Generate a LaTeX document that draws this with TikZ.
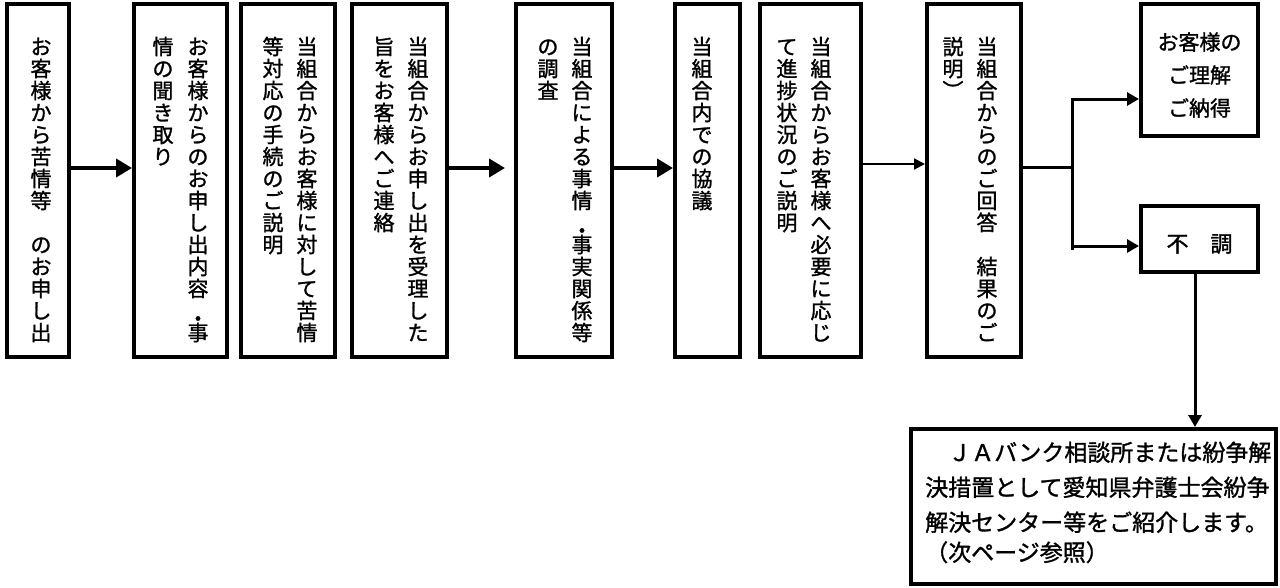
\documentclass[tikz,border=0pt]{standalone}
\usepackage{fontspec}
\setmainfont{Noto Sans CJK JP}[FakeBold=1.3]
\usetikzlibrary{arrows.meta}
\newcommand\vcol[1]{\vtop{\baselineskip=22pt\lineskiplimit=-1000pt\lineskip=0pt\vcolstep#1\relax}}
\def\vcolstep#1{\ifx#1\relax\else\hbox to 21pt{\hss#1\hss}\expandafter\vcolstep\fi}
\newcommand\lowdot{\raisebox{-0.38em}{・}}
\begin{document}
\begin{tikzpicture}[x=1pt,y=-1pt,
  box/.style={draw, line width=4pt, inner sep=0pt},
  vt/.style={anchor=base, inner sep=0pt, font=\fontsize{21pt}{22pt}\selectfont},
  arrowA/.style={line width=4pt, -{Triangle[length=16pt,width=18pt]}},
  arrowB/.style={line width=3pt, -{Triangle[length=12pt,width=13pt]}},
  lineB/.style={line width=3pt},
  arrowC/.style={line width=2pt, -{Triangle[length=11pt,width=11pt]}}]
\fill[white] (0,0) rectangle (1280,587);
\useasboundingbox (0,0) rectangle (1280,587);
% boxes
\node[box, minimum width=62pt, minimum height=353pt] (b1) at (38,180.5) {};
\node[box, minimum width=93pt, minimum height=353pt] (b2) at (180.5,180.5) {};
\node[box, minimum width=94pt, minimum height=353pt] (b3) at (288,180.5) {};
\node[box, minimum width=95pt, minimum height=353pt] (b4) at (399.5,180.5) {};
\node[box, minimum width=96pt, minimum height=353pt] (b5) at (564,180.5) {};
\node[box, minimum width=65pt, minimum height=353pt] (b6) at (707.5,180.5) {};
\node[box, minimum width=101pt, minimum height=353pt] (b7) at (810.5,180.5) {};
\node[box, minimum width=94pt, minimum height=353pt] (b8) at (974,180.5) {};
\node[box, minimum width=117pt, minimum height=132pt] (b9) at (1199.5,70) {};
\node[box, minimum width=117pt, minimum height=66pt] (b10) at (1199.5,239) {};
\node[box, minimum width=365pt, minimum height=155pt] (b11) at (1093.5,506.5) {};
% vertical texts
\node[vt] (t1) at (41,54.5) {\vcol{お客様から苦情等　のお申し出}};
\node[vt] (t2a) at (198,54.5) {\vcol{お客様からのお申し出内容\lowdot 事}};
\node[vt] (t2b) at (163,54.5) {\vcol{情の聞き取り}};
\node[vt] (t3a) at (307,54.5) {\vcol{当組合からお客様に対して苦情}};
\node[vt] (t3b) at (273,54.5) {\vcol{等対応の手続のご説明}};
\node[vt] (t4a) at (418,54.5) {\vcol{当組合からお申し出を受理した}};
\node[vt] (t4b) at (384,54.5) {\vcol{旨をお客様へご連絡}};
\node[vt] (t5a) at (582,54.5) {\vcol{当組合による事情\lowdot 事実関係等}};
\node[vt] (t5b) at (548,54.5) {\vcol{の調査}};
\node[vt] (t6) at (702,54.5) {\vcol{当組合内での協議}};
\node[vt] (t7a) at (821,54.5) {\vcol{当組合からお客様へ必要に応じ}};
\node[vt] (t7b) at (787,54.5) {\vcol{て進捗状況のご説明}};
\node[vt] (t8a) at (987,54.5) {\vcol{当組合からのご回答　結果のご}};
\node[vt] (t8b) at (953,54.5) {\vcol{説明︶}};
% horizontal texts
\node[inner sep=0pt, align=center, font=\fontsize{21pt}{33pt}\selectfont] (t9) at (1199.5,75) {お客様の\\ご理解\\ご納得};
\node[inner sep=0pt, font=\fontsize{22pt}{24pt}\selectfont] (t10) at (1199.5,244) {不　調};
\node[anchor=base west, inner sep=0pt, font=\fontsize{23pt}{35pt}\selectfont] (t11) at (925,461)
  {\vtop{\baselineskip=35pt\hbox{　ＪＡバンク相談所または紛争解}\hbox{決措置として愛知県弁護士会紛争}\hbox{解決センター等をご紹介します。}\vskip-5pt\hbox{（次ページ参照）}}};
% connectors
\coordinate (m) at (0,168);
\coordinate (m2) at (0,164);
\coordinate (j) at (1072,167);
\coordinate (jt) at (1072,99);
\coordinate (jb) at (1072,250);
\coordinate (jb2) at (1072,246);
\coordinate (v) at (1195,0);
\draw[arrowA] (b1.east |- m) -- (b2.west |- m);
\draw[arrowA] (b4.east |- m) -- ([xshift=-9pt]b5.west |- m);
\draw[arrowA] (b5.east |- m) -- (b6.west |- m);
\draw[arrowC] (b7.east |- m2) -- (b8.west |- m2);
\draw[lineB] (b8.east |- j) -- (j);
\draw[arrowB] (jb) -- (jt) -- (b9.west |- jt);
\draw[arrowB] (jb2) -- (b10.west |- jb2);
\draw[arrowB] (b10.south -| v) -- (b11.north -| v);
\end{tikzpicture}
\end{document}
